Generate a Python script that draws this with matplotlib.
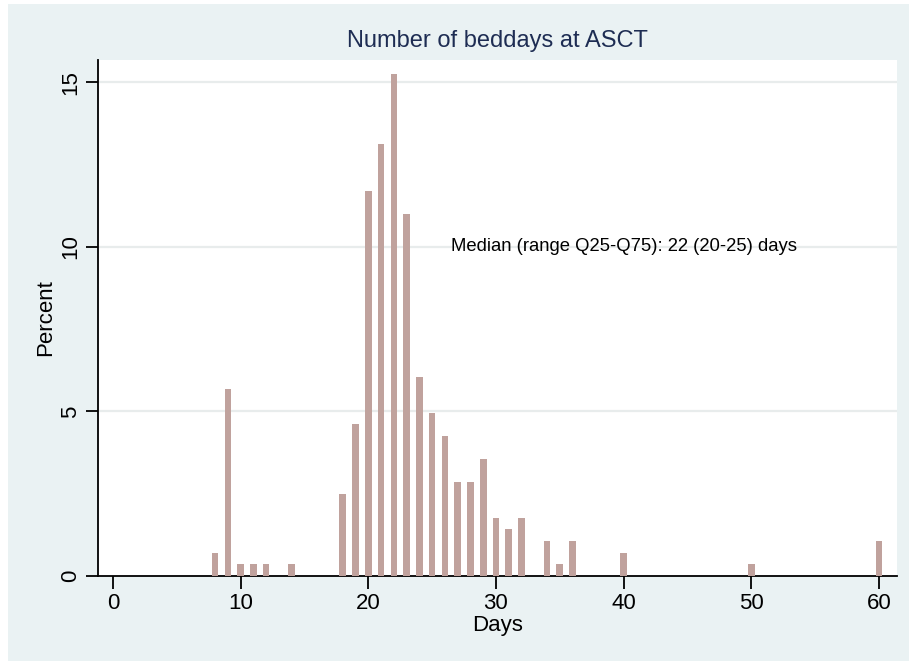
import matplotlib
matplotlib.use("Agg")
import matplotlib.pyplot as plt
from matplotlib.patches import Rectangle

# beddays at ASCT, percent of patients per day count
days = [8, 9, 10, 11, 12, 14, 18, 19, 20, 21, 22, 23, 24, 25, 26, 27, 28,
        29, 30, 31, 32, 34, 35, 36, 40, 50, 60]
percent = [0.71, 5.67, 0.35, 0.35, 0.35, 0.35, 2.48, 4.61, 11.70, 13.12,
           15.25, 10.99, 6.03, 4.96, 4.26, 2.84, 2.84, 3.55, 1.77, 1.42,
           1.77, 1.06, 0.35, 1.06, 0.71, 0.35, 1.06]
xticks = [0, 10, 20, 30, 40, 50, 60]
yticks = [0, 5, 10, 15]

plt.rcParams['font.family'] = ['Liberation Sans', 'DejaVu Sans']

bg = '#EAF2F3'
bar_color = '#C0A29D'
navy = '#1E2D53'

fig = plt.figure(figsize=(9.09, 6.61), dpi=100, facecolor='white')
fig.patches.append(Rectangle((8 / 909, 0), 1, 1 - 4 / 661,
                             transform=fig.transFigure, facecolor=bg,
                             edgecolor='none', zorder=-10))

ax = fig.add_axes([98 / 909, 1 - 576 / 661, 799 / 909, 516 / 661])
ax.set_facecolor('white')
ax.bar(days, percent, width=0.52, color=bar_color, zorder=3)

ax.set_xlim(-1.17, 61.41)
ax.set_ylim(0, 15.67)
ax.set_xticks(xticks)
ax.set_yticks(yticks)
ax.tick_params(axis='both', labelsize=16, length=9, width=1.3,
               colors='black', pad=3)
ax.tick_params(axis='y', labelrotation=90)
for lab in ax.get_yticklabels():
    lab.set_va('center')

for y in yticks[1:]:
    ax.axhline(y, color='#E8ECEC', lw=1.6, zorder=1)

for side in ['top', 'right']:
    ax.spines[side].set_visible(False)
for side in ['left', 'bottom']:
    ax.spines[side].set_linewidth(1.3)
    ax.spines[side].set_color('black')

ax.set_xlabel('Days', fontsize=16, labelpad=1)
ax.set_ylabel('Percent', fontsize=16, labelpad=3)
ax.set_title('Number of beddays at ASCT', fontsize=17, color=navy, pad=9)

ax.text(26.5, 10, 'Median (range Q25-Q75): 22 (20-25) days',
        fontsize=13.3, ha='left', va='center', zorder=4)

fig.savefig('out.png', dpi=100, facecolor=fig.get_facecolor())
